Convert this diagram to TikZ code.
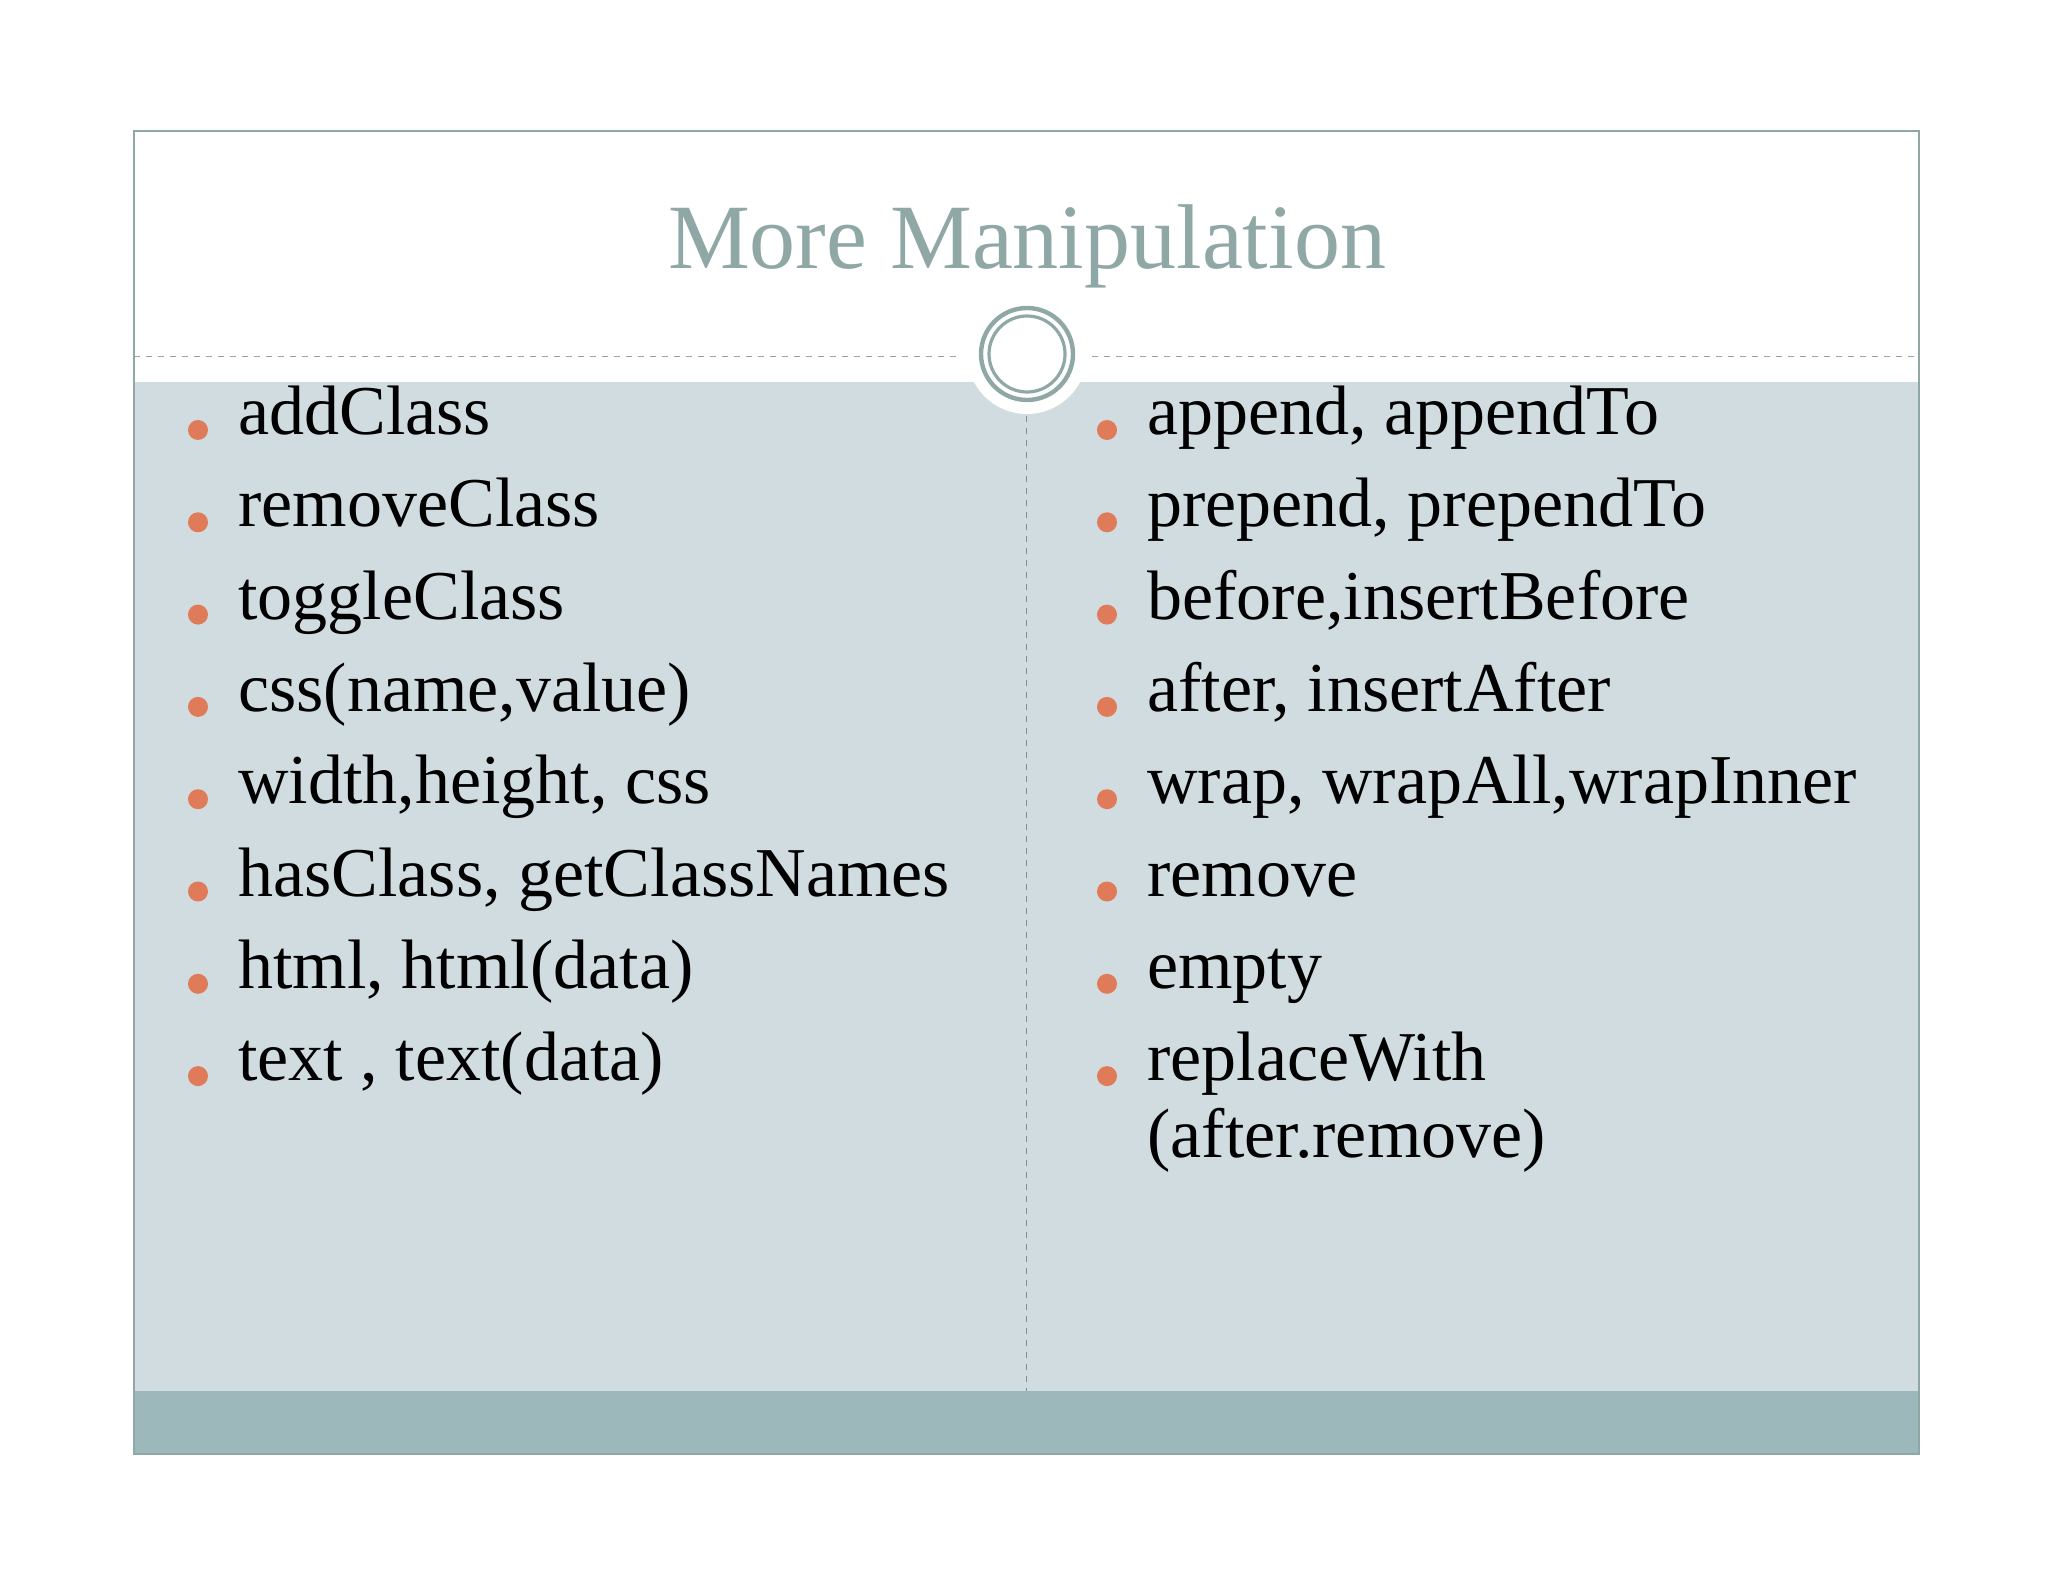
\documentclass[tikz,border=0pt]{standalone}
\usepackage{fontspec}
\setmainfont{Liberation Serif}
\definecolor{frame}{HTML}{8FA8A6}
\definecolor{panel}{HTML}{D0DCDF}
\definecolor{band}{HTML}{9DB8BA}
\definecolor{bul}{HTML}{E07B5A}
\definecolor{vline}{HTML}{7F8C94}
\begin{document}
\begin{tikzpicture}[x=0.5pt,y=-0.5pt,
  item/.style={anchor=mid west,font=\fontsize{35}{40}\selectfont,inner sep=0pt,text=black},
  dotb/.style={fill=bul,draw=none}]
\useasboundingbox (0,0) rectangle (2048,1582);
\fill[white] (0,0) rectangle (2048,1582);
\fill[panel] (134,382) rectangle (1919,1391);
\fill[band] (134,1391) rectangle (1919,1454);
\fill[white] (1027,354) circle (60);
\draw[frame,thick] (134,131) rectangle (1919,1454);
\draw[frame,dashed] (134,356) -- (962,356);
\draw[frame,dashed] (1092,356) -- (1919,356);
\draw[vline,dashed] (1026,416) -- (1026,1391);
\draw[frame,line width=2.2pt] (1027,354) circle (46);
\draw[frame,line width=1.6pt] (1027,354) circle (38);
\node[font=\fontsize{46}{52}\selectfont,text=frame] (title) at (1027,246) {More Manipulation};
\foreach \t [count=\i] in {addClass,removeClass,toggleClass,{css(name,value)},{width,height, css},{hasClass, getClassNames},{html, html(data)},{text , text(data)}}{
  \fill[bul] (198,{430+92.3*(\i-1)}) circle (10);
  \node[item] (l\i) at (238,{430+92.3*(\i-1)}) {\t};
}
\foreach \t [count=\i] in {{append, appendTo},{prepend, prependTo},{before,insertBefore},{after, insertAfter},{wrap, wrapAll,wrapInner},remove,empty,replaceWith}{
  \fill[bul] (1107,{430+92.3*(\i-1)}) circle (10);
  \node[item] (r\i) at (1147,{430+92.3*(\i-1)}) {\t};
}
\node[item] (r9) at (1147,1153) {(after.remove)};
\end{tikzpicture}
\end{document}
